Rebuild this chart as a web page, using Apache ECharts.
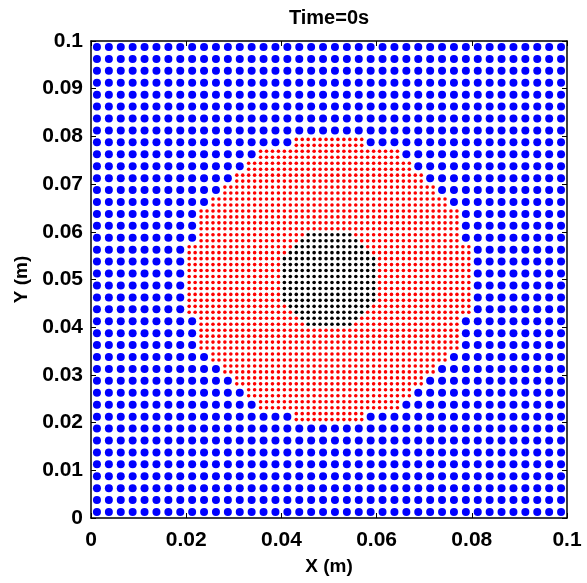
<!DOCTYPE html>
<html>
<head>
<meta charset="utf-8">
<script src="https://cdn.jsdelivr.net/npm/echarts@6/dist/echarts.min.js"></script>
<style>
html,body{margin:0;padding:0;background:#fff;}
#chart{width:587px;height:583px;}
</style>
</head>
<body>
<div id="chart"></div>
<script>
// ---- data (particle layout) ----
const titleText = 'Time=0s';
const xTickValues = [0, 0.02, 0.04, 0.06, 0.08, 0.1];
const yTickValues = [0, 0.01, 0.02, 0.03, 0.04, 0.05, 0.06, 0.07, 0.08, 0.09, 0.1];
const domain = [0, 0.1];            // square box
const coarseCount = [40];           // coarse particles per side (spacing 0.0025)
const refineCenter = [0.05, 0.05];  // centre of refined region
const refineRadius = [0.03];        // coarse cells inside are split in 2x2 fine particles
const coreRadius = [0.0105];        // fine particles inside are the black core

// build particle lists
const L = domain[1] - domain[0];
const nC = coarseCount[0];
const hC = L / nC, hF = hC / 2;
const blueParticles = [], redParticles = [], blackParticles = [];
for (let i = 0; i < nC; i++) {
  for (let j = 0; j < nC; j++) {
    const x = domain[0] + (i + 0.5) * hC, y = domain[0] + (j + 0.5) * hC;
    const dx = (x - refineCenter[0]) / hC, dy = (y - refineCenter[1]) / hC;
    const rr = refineRadius[0] / hC;
    if (dx * dx + dy * dy < rr * rr) {
      for (let a = 0; a < 2; a++) for (let b = 0; b < 2; b++) {
        const fx = x - hC / 2 + (a + 0.5) * hF, fy = y - hC / 2 + (b + 0.5) * hF;
        const ex = (fx - refineCenter[0]) / hF, ey = (fy - refineCenter[1]) / hF;
        const cr = coreRadius[0] / hF;
        if (ex * ex + ey * ey < cr * cr) blackParticles.push([fx, fy]);
        else redParticles.push([fx, fy]);
      }
    } else {
      blueParticles.push([x, y]);
    }
  }
}

const fmt = v => String(parseFloat(v.toFixed(4)));
const font = 'Liberation Sans, Arial, Helvetica, sans-serif';
const lab = {color: '#000', fontFamily: font, fontWeight: 'bold', fontSize: 21};
const nameStyle = {color: '#000', fontFamily: font, fontWeight: 'bold', fontSize: 19};
const line = {show: true, onZero: false, lineStyle: {color: '#000', width: 1.5}};
const tick = {show: true, inside: true, length: 5, lineStyle: {color: '#000', width: 1}};

const chart = echarts.init(document.getElementById('chart'), null, {renderer: 'canvas'});
chart.setOption({
  animation: false,
  backgroundColor: '#fff',
  grid: {left: 91, top: 41, width: 476, height: 477, containLabel: false},
  graphic: [{
    type: 'text', x: 329, y: 18,
    style: {text: titleText, fill: '#000', font: 'bold 20px ' + font, textAlign: 'center', textVerticalAlign: 'middle'}
  }],
  xAxis: [{
    type: 'value', min: domain[0], max: domain[1], interval: 0.02, position: 'bottom',
    axisLine: line, axisTick: tick, splitLine: {show: false},
    axisLabel: Object.assign({margin: 12, formatter: fmt}, lab),
    name: 'X (m)', nameLocation: 'middle', nameGap: 39, nameTextStyle: nameStyle
  }, {
    type: 'value', min: domain[0], max: domain[1], interval: 0.02, position: 'top',
    axisLine: line, axisTick: tick, splitLine: {show: false}, axisLabel: {show: false}
  }],
  yAxis: [{
    type: 'value', min: domain[0], max: domain[1], interval: 0.01, position: 'left',
    axisLine: line, axisTick: tick, splitLine: {show: false},
    axisLabel: Object.assign({margin: 8, formatter: fmt}, lab),
    name: 'Y (m)', nameLocation: 'middle', nameGap: 60, nameRotate: 90, nameTextStyle: nameStyle
  }, {
    type: 'value', min: domain[0], max: domain[1], interval: 0.01, position: 'right',
    axisLine: line, axisTick: tick, splitLine: {show: false}, axisLabel: {show: false}
  }],
  series: [
    {type: 'scatter', xAxisIndex: 0, yAxisIndex: 0, data: blueParticles, symbol: 'circle', symbolSize: 8,
     itemStyle: {color: '#0000ff', opacity: 1}, silent: true},
    {type: 'scatter', xAxisIndex: 0, yAxisIndex: 0, data: redParticles, symbol: 'circle', symbolSize: 3.6,
     itemStyle: {color: '#ff0000', opacity: 1}, silent: true},
    {type: 'scatter', xAxisIndex: 0, yAxisIndex: 0, data: blackParticles, symbol: 'circle', symbolSize: 3.6,
     itemStyle: {color: '#000000', opacity: 1}, silent: true}
  ]
});
</script>
</body>
</html>
